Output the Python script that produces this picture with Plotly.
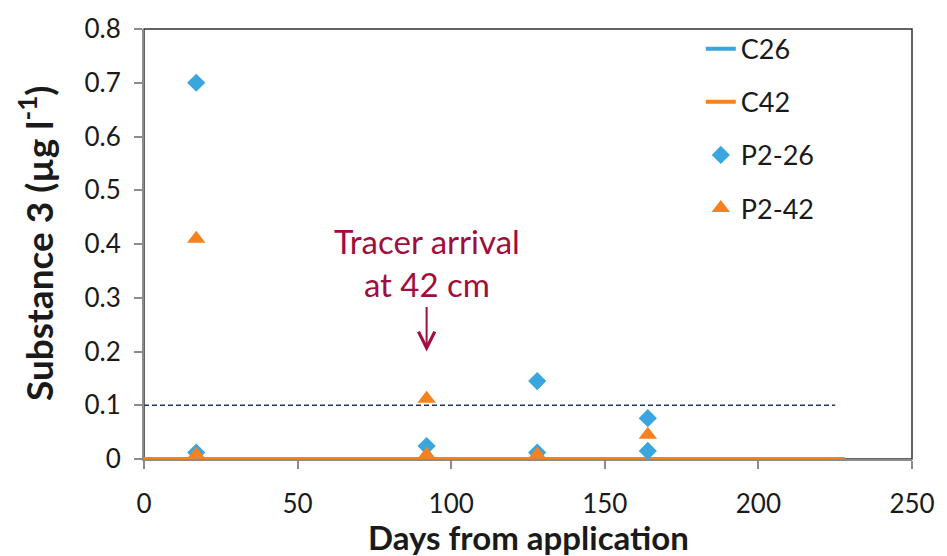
import plotly.graph_objects as go

# Simulated concentrations (zero over the whole run)
c_days = [0, 228]
c26_conc = [0, 0]
c42_conc = [0, 0]

# Measured concentrations from pore-water samplers
p26_days = [17, 17, 92, 128, 128, 164, 164]
p26_conc = [0.70, 0.012, 0.024, 0.145, 0.012, 0.076, 0.015]
p42_days = [17, 17, 92, 92, 128, 164]
p42_conc = [0.41, 0.008, 0.112, 0.008, 0.008, 0.045]

# Regulatory limit
limit_days = [0, 225]
limit_conc = [0.1, 0.1]

BLUE = "#3BA5DD"
ORANGE = "#F5821F"
NAVY = "#1F3864"
CRIMSON = "#A00D3E"
FONT = "Lato, 'Open Sans', sans-serif"
TXT = "#1a1a1a"

fig = go.Figure()

fig.add_trace(go.Scatter(x=limit_days, y=limit_conc, mode="lines",
                         line=dict(color=NAVY, width=1.5, dash="5px,3px"),
                         showlegend=False, hoverinfo="skip"))
fig.add_trace(go.Scatter(x=c_days, y=c26_conc, mode="lines", name="C26",
                         legendgroup="a", line=dict(color=BLUE, width=4)))
fig.add_trace(go.Scatter(x=c_days, y=c42_conc, mode="lines", name="C42",
                         legendgroup="b", line=dict(color=ORANGE, width=4)))
fig.add_trace(go.Scatter(x=p26_days, y=p26_conc, mode="markers", name="P2-26",
                         legendgroup="c",
                         marker=dict(symbol="diamond", size=14, color=BLUE)))
fig.add_trace(go.Scatter(x=p42_days, y=p42_conc, mode="markers", name="P2-42",
                         legendgroup="d",
                         marker=dict(symbol="triangle-up", size=16, color=ORANGE)))

fig.add_annotation(x=92, y=0.365, xref="x", yref="y",
                   text="Tracer arrival<br>at 42 cm", showarrow=False,
                   font=dict(family=FONT, size=33, color=CRIMSON))
fig.add_annotation(x=92, y=0.2, xref="x", yref="y", text="",
                   showarrow=True, ax=0, ay=-46, arrowhead=5, arrowsize=1.6,
                   arrowwidth=2, arrowcolor=CRIMSON)

fig.add_annotation(x=0.5, y=0, xref="paper", yref="paper", yshift=-78,
                   yanchor="middle",
                   text="<b>Days from application</b>", showarrow=False,
                   font=dict(family=FONT, size=33, color=TXT))
fig.add_annotation(x=0, y=0.5, xref="paper", yref="paper", xshift=-108,
                   xanchor="center", yanchor="middle",
                   text="<b>Substance 3 (µg l<sup>-1</sup>)</b>", textangle=-90,
                   showarrow=False, font=dict(family=FONT, size=37, color=TXT))

# Dark frame on top/right
fig.add_shape(type="rect", xref="paper", yref="paper", x0=0, y0=0, x1=1, y1=1,
              line=dict(color="#303030", width=1.5), layer="below")

fig.update_xaxes(range=[0, 250], tickvals=[0, 50, 100, 150, 200, 250],
                 showgrid=False, zeroline=False, showline=True,
                 linecolor="#8C8C8C", linewidth=2, ticks="outside",
                 ticklen=8, tickwidth=2, tickcolor="#8C8C8C",
                 ticklabelstandoff=13,
                 tickfont=dict(family=FONT, size=26, color=TXT))
fig.update_yaxes(range=[0, 0.8], tickvals=[0, 0.1, 0.2, 0.3, 0.4, 0.5, 0.6, 0.7, 0.8],
                 showgrid=False, zeroline=False, showline=True,
                 linecolor="#8C8C8C", linewidth=2, ticks="outside",
                 ticklen=8, tickwidth=2, tickcolor="#8C8C8C",
                 ticklabelstandoff=8,
                 tickfont=dict(family=FONT, size=26, color=TXT))

fig.update_layout(
    width=947, height=556,
    margin=dict(l=144, r=25, t=18, b=97),
    paper_bgcolor="white", plot_bgcolor="white",
    legend=dict(x=0.725, y=1.01, xanchor="left", yanchor="top",
                font=dict(family=FONT, size=27, color=TXT),
                bgcolor="rgba(0,0,0,0)", tracegroupgap=15,
                traceorder="grouped"),
)

fig.write_html("out.html")
